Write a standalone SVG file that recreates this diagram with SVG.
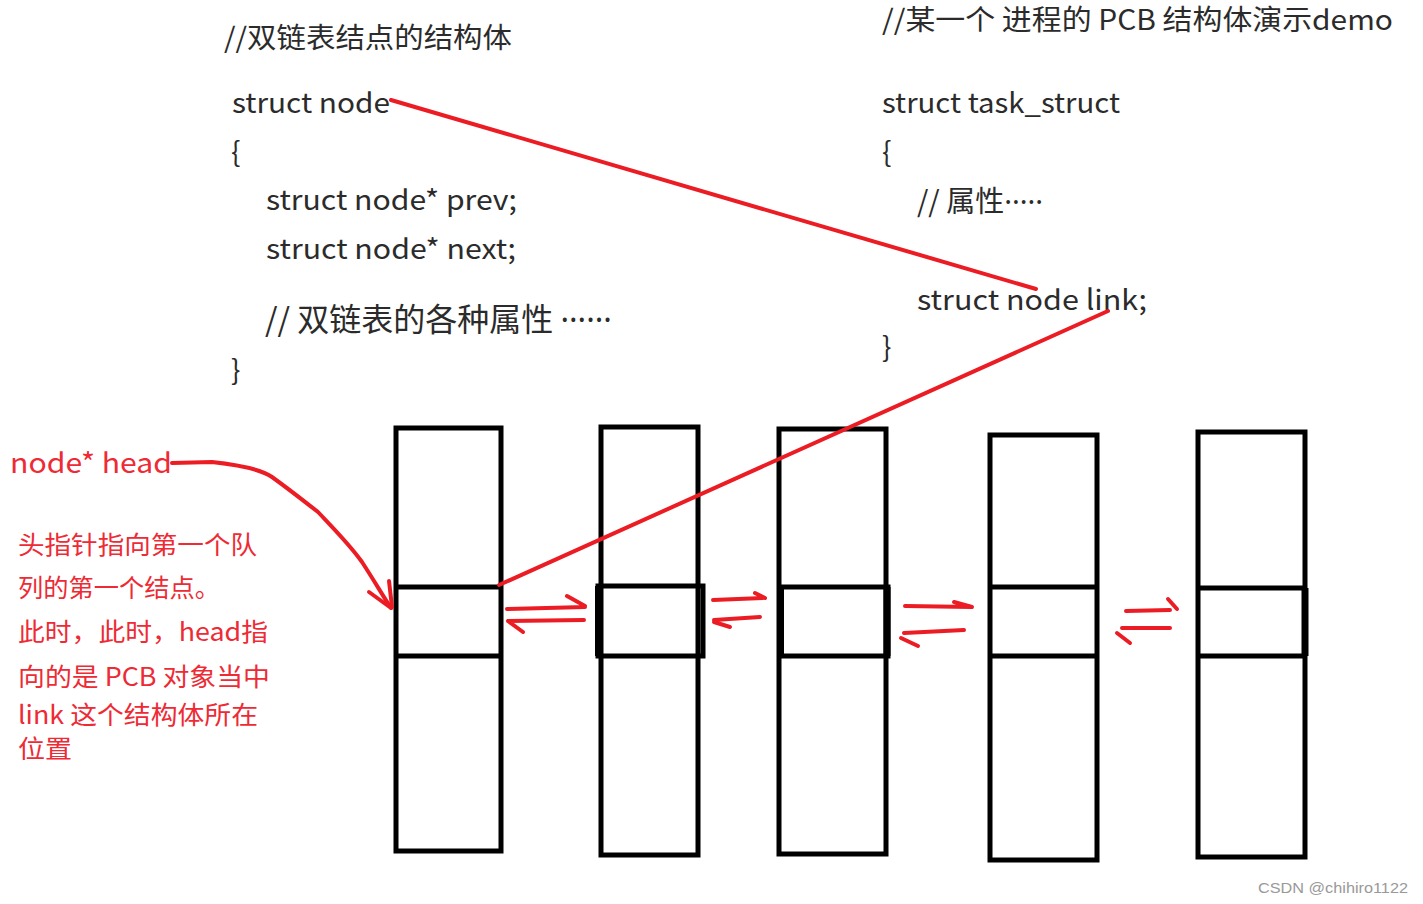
<svg xmlns="http://www.w3.org/2000/svg" width="1423" height="904" viewBox="0 0 1423 904">
<style>
.code{font-family:"Noto Sans CJK SC","Noto Sans",sans-serif;font-size:28px;fill:#2b2b2b}
.dots{font-family:"Noto Sans",sans-serif}
.red{font-family:"Noto Sans CJK SC","Noto Sans",sans-serif;fill:#ee2a35}
.box{fill:none;stroke:#000;stroke-width:5}
.bar{stroke:#000;stroke-width:5}
.rl{fill:none;stroke:#ec1c24;stroke-width:4;stroke-linecap:round;stroke-linejoin:round}
.wm{font-family:"Liberation Sans",Arial,sans-serif;font-size:15px;fill:#999}
</style>
<rect width="1423" height="904" fill="#fff"/>
<g id="left-code">
<text class="code" x="224" y="48" textLength="288" lengthAdjust="spacingAndGlyphs">//双链表结点的结构体</text>
<text class="code" x="232" y="113" textLength="158" lengthAdjust="spacingAndGlyphs">struct node</text>
<text class="code" x="231" y="162">{</text>
<text class="code" x="266" y="210" textLength="251" lengthAdjust="spacingAndGlyphs">struct node* prev;</text>
<text class="code" x="266" y="259" textLength="250" lengthAdjust="spacingAndGlyphs">struct node* next;</text>
<text class="code" x="265" y="331" style="font-size:32px">// 双链表的各种属性 <tspan class="dots">······</tspan></text>
<text class="code" x="231" y="380">}</text>
</g>
<g id="right-code">
<text class="code" x="882" y="30" textLength="511" lengthAdjust="spacingAndGlyphs">//某一个 进程的 PCB 结构体演示demo</text>
<text class="code" x="882" y="113" textLength="238" lengthAdjust="spacingAndGlyphs">struct task_struct</text>
<text class="code" x="882" y="162">{</text>
<text class="code" x="917" y="212" style="font-size:29px">// 属性<tspan class="dots">·····</tspan></text>
<text class="code" x="917" y="310" textLength="230" lengthAdjust="spacingAndGlyphs">struct node link;</text>
<text class="code" x="882" y="357">}</text>
</g>
<g id="head-label">
<text class="red" x="10" y="473" font-size="28" textLength="162" lengthAdjust="spacingAndGlyphs">node* head</text>
</g>
<g id="note" class="red" font-size="25">
<text x="18" y="554" textLength="239" lengthAdjust="spacingAndGlyphs">头指针指向第一个队</text>
<text x="18" y="597" textLength="202" lengthAdjust="spacingAndGlyphs">列的第一个结点。</text>
<text x="18" y="641" textLength="250" lengthAdjust="spacingAndGlyphs">此时，此时，head指</text>
<text x="18" y="686" textLength="252" lengthAdjust="spacingAndGlyphs">向的是 PCB 对象当中</text>
<text x="18" y="724" textLength="240" lengthAdjust="spacingAndGlyphs">link 这个结构体所在</text>
<text x="18" y="758" textLength="54" lengthAdjust="spacingAndGlyphs">位置</text>
</g>
<g id="node1">
<rect class="box" x="396" y="428" width="105" height="423"/>
<line class="bar" x1="396" y1="587" x2="501" y2="587"/>
<line class="bar" x1="396" y1="656" x2="501" y2="656"/>
</g>
<g id="node2">
<rect class="box" x="601" y="427" width="97" height="428"/>
<rect class="box" x="598" y="586" width="105" height="70"/>
<line x1="599" y1="586" x2="599" y2="656" stroke="#000" stroke-width="8"/>
</g>
<g id="node3">
<rect class="box" x="779" y="429" width="107" height="425"/>
<rect class="box" x="781" y="587" width="107" height="69"/>
<line x1="887" y1="587" x2="887" y2="656" stroke="#000" stroke-width="7"/>
<line x1="781" y1="587" x2="781" y2="656" stroke="#000" stroke-width="6"/>
</g>
<g id="node4">
<rect class="box" x="990" y="435" width="107" height="425"/>
<line class="bar" x1="990" y1="587" x2="1097" y2="587"/>
<line class="bar" x1="990" y1="656" x2="1097" y2="656"/>
</g>
<g id="node5">
<rect class="box" x="1198" y="432" width="107" height="425"/>
<line class="bar" x1="1198" y1="588" x2="1305" y2="588"/>
<line class="bar" x1="1198" y1="656" x2="1305" y2="656"/>
<line x1="1305" y1="588" x2="1305" y2="656" stroke="#000" stroke-width="7"/>
</g>
<g id="connectors">
<line class="rl" x1="391" y1="100" x2="1036" y2="289"/>
<line class="rl" x1="1108" y1="311" x2="499" y2="585"/>
<path class="rl" d="M172 463 L212 462 C240 465 262 470 272 477 C290 490 300 498 318 512 C335 530 350 545 362 562 C375 582 383 596 391 608"/>
<path class="rl" d="M369 592 L391 608 M389 581 L392 607"/>
<path class="rl" d="M507 609 L585 607 M567 596 L585 606"/>
<path class="rl" d="M584 620 L508 621 M508 621 L523 632"/>
<path class="rl" d="M713 600 L763 598 M755 593 L765 598"/>
<path class="rl" d="M760 617 L714 620 M714 622 L730 627"/>
<path class="rl" d="M905 606 L972 607 M954 602 L972 607"/>
<path class="rl" d="M964 630 L904 633 M901 638 L918 646"/>
<path class="rl" d="M1126 611 L1170 610 M1168 599 L1177 609"/>
<path class="rl" d="M1170 628 L1122 628 M1117 633 L1130 643"/>
</g>
<text class="wm" x="1258" y="893" textLength="150" lengthAdjust="spacingAndGlyphs">CSDN @chihiro1122</text>
</svg>
